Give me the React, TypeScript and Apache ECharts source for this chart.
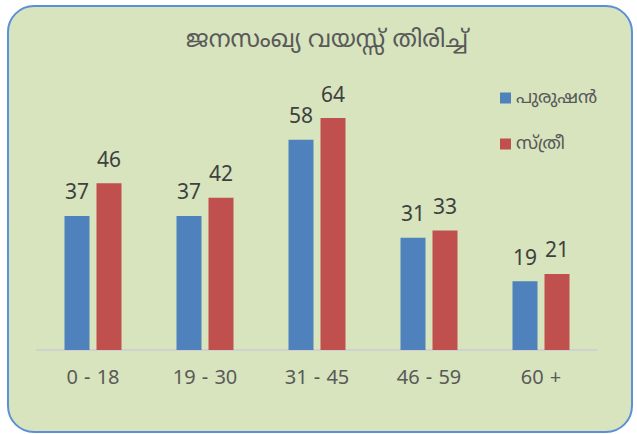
import React, { useEffect, useRef } from "react";
import * as echarts from "echarts";

const categories = ["0 - 18", "19 - 30", "31 - 45", "46 - 59", "60 +"];
const menValues = [37, 37, 58, 31, 19];
const womenValues = [46, 42, 64, 33, 21];
const seriesNames = ["പുരുഷൻ", "സ്ത്രീ"];
const title = "ജനസംഖ്യ വയസ്സ് തിരിച്ച്";

const FONT = "'Noto Sans Malayalam', 'Noto Sans', 'DejaVu Sans', sans-serif";

export default function App() {
  const ref = useRef<HTMLDivElement>(null);
  useEffect(() => {
    if (!ref.current) return;
    const chart = echarts.init(ref.current, undefined, { renderer: "svg" });
    chart.setOption({
      animation: false,
      backgroundColor: "#ffffff",
      graphic: [
        {
          type: "rect",
          z: -10,
          shape: { x: 8, y: 6, width: 624, height: 426, r: 26 },
          style: { fill: "#d7e4bd", stroke: "#5b8fd8", lineWidth: 2 },
          silent: true,
        },
      ],
      title: {
        text: title,
        left: 322,
        textAlign: "center",
        top: 24,
        textStyle: { fontFamily: FONT, fontSize: 24, fontWeight: "normal", color: "#595959" },
      },
      legend: {
        orient: "vertical",
        left: 495,
        top: 84,
        itemGap: 28,
        itemWidth: 11,
        itemHeight: 11,
        icon: "rect",
        textStyle: { fontFamily: FONT, fontSize: 18, color: "#595959" },
        data: seriesNames,
      },
      grid: { left: 37, right: 40, top: 60, bottom: 84 },
      xAxis: {
        type: "category",
        data: categories,
        axisLine: { lineStyle: { color: "#d0d0d0", width: 2 } },
        axisTick: { show: false },
        axisLabel: { fontFamily: FONT, fontSize: 20, color: "#595959", margin: 19 },
      },
      yAxis: {
        type: "value",
        min: 0,
        max: 80,
        show: false,
        splitLine: { show: false },
      },
      series: [
        {
          name: seriesNames[0],
          type: "bar",
          data: menValues,
          barWidth: 25,
          barGap: "28%",
          itemStyle: { color: "#4f81bd" },
          label: { show: true, position: "top", distance: 11, fontFamily: FONT, fontSize: 21, color: "#404040" },
        },
        {
          name: seriesNames[1],
          type: "bar",
          data: womenValues,
          barWidth: 25,
          itemStyle: { color: "#c0504d" },
          label: { show: true, position: "top", distance: 11, fontFamily: FONT, fontSize: 21, color: "#404040" },
        },
      ],
    });
    return () => chart.dispose();
  }, []);
  return (
    <div
      ref={ref}
      style={{ position: "fixed", left: 0, top: 0, width: 637, height: 434 }}
    />
  );
}
